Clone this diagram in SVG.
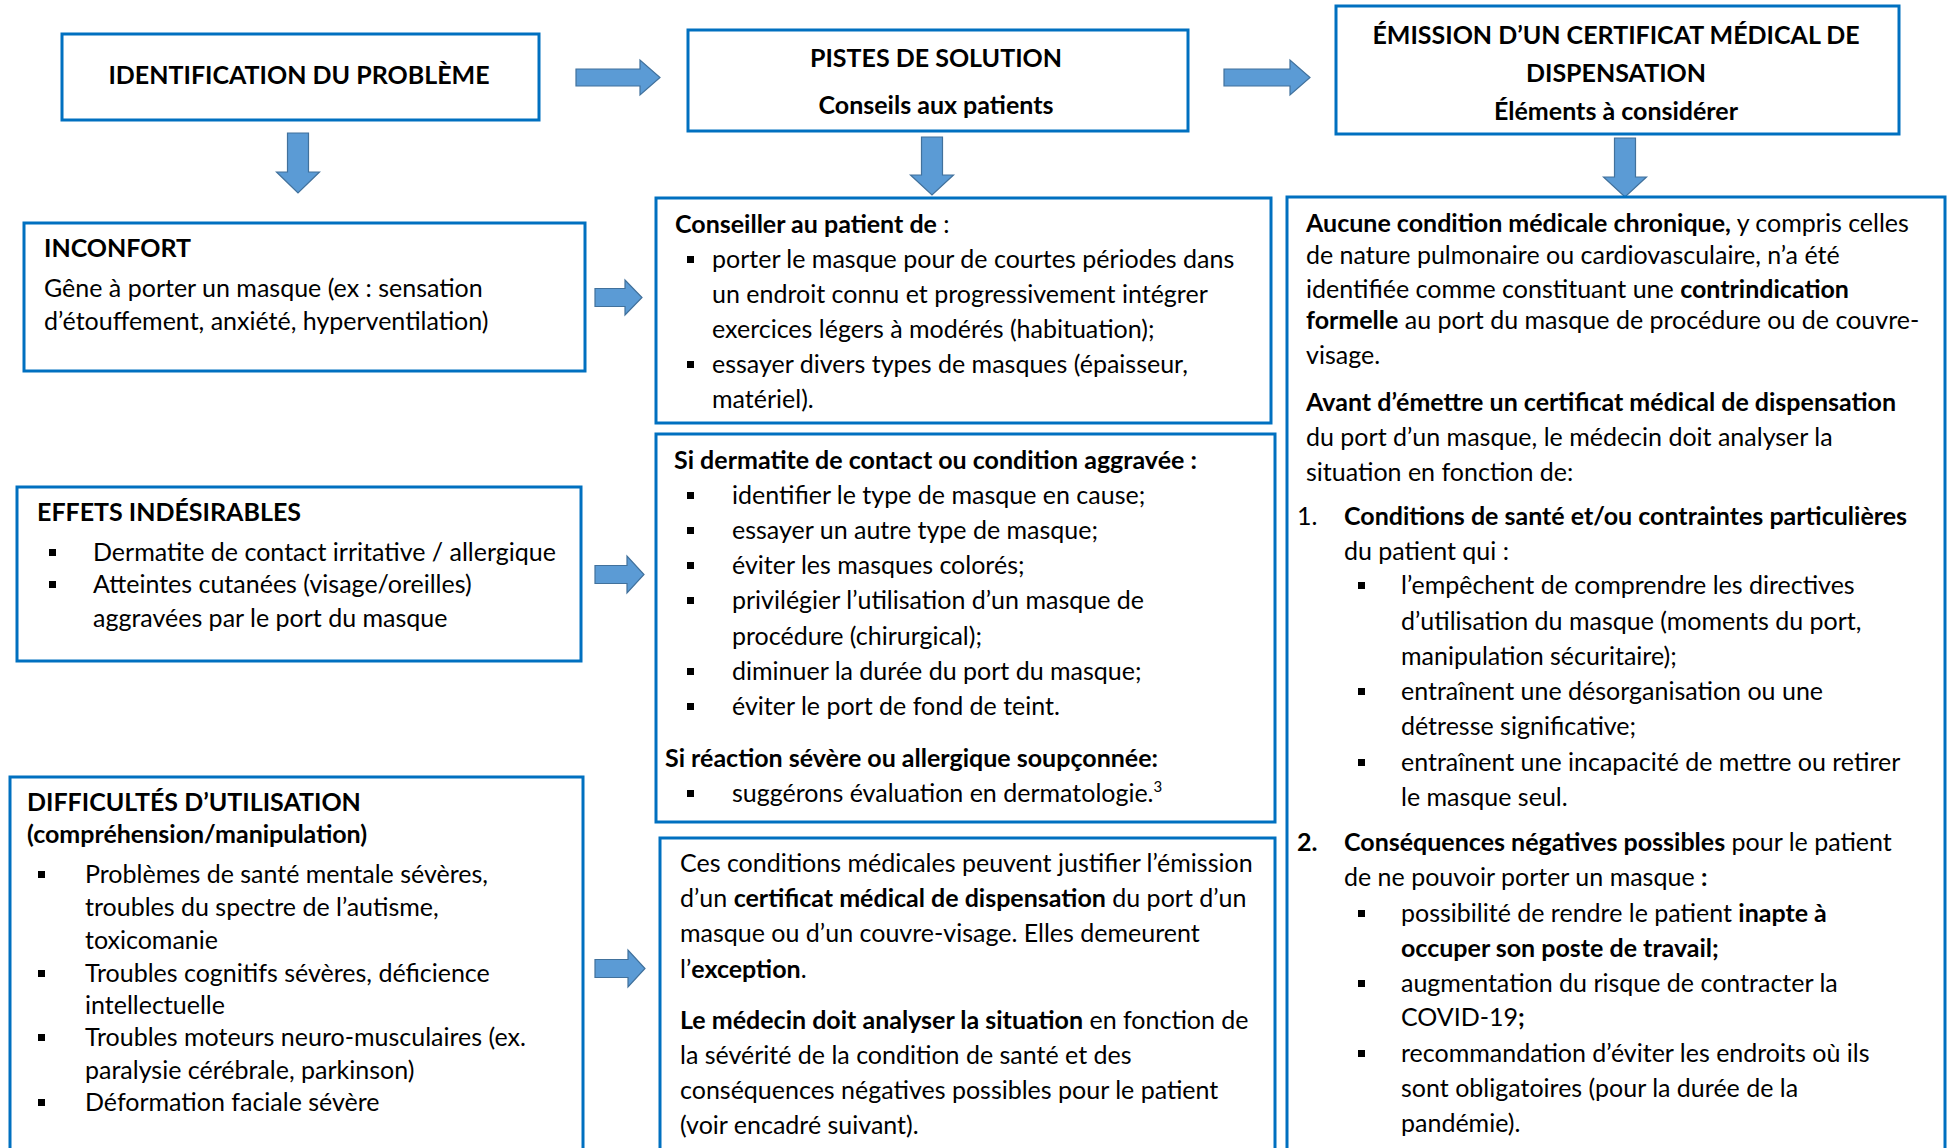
<svg xmlns="http://www.w3.org/2000/svg" width="1952" height="1148" viewBox="0 0 1952 1148">
<style>
text{font-family:Lato,"Liberation Sans",sans-serif;font-size:25px;fill:#000}
.b{font-weight:bold}
.t{font-weight:bold;font-size:25px;text-anchor:middle}
.box{fill:#fff;stroke:#0070C0;stroke-width:3}
.arr{fill:#5B9BD5;stroke:#41719C;stroke-width:1.2}
.bl{fill:#000}
</style>
<rect width="1952" height="1148" fill="#fff"/>
<g id="connectors">
<path class="arr" d="M576,69 L640,69 L640,60 L660,77.5 L640,95 L640,86 L576,86 Z"/>
<path class="arr" d="M1224,69 L1290,69 L1290,60 L1310,77.5 L1290,95 L1290,86 L1224,86 Z"/>
<path class="arr" d="M287.5,133 L308.5,133 L308.5,172 L319.5,172 L298,193 L276.5,172 L287.5,172 Z"/>
<path class="arr" d="M921.5,137 L942.5,137 L942.5,175 L953.5,175 L932,195 L910.5,175 L921.5,175 Z"/>
<path class="arr" d="M1614.5,138 L1635.5,138 L1635.5,177 L1646.5,177 L1625,197 L1603.5,177 L1614.5,177 Z"/>
<path class="arr" d="M595,288.5 L625,288.5 L625,280 L642,297.5 L625,315 L625,306.5 L595,306.5 Z"/>
<path class="arr" d="M595,565.5 L627,565.5 L627,556 L644,574.5 L627,593 L627,583.5 L595,583.5 Z"/>
<path class="arr" d="M595,959.5 L628,959.5 L628,950 L645,968.5 L628,987 L628,977.5 L595,977.5 Z"/>
</g>
<g id="ident">
<rect class="box" x="62" y="34" width="477" height="86"/>
<text class="t" x="299" y="84">IDENTIFICATION DU PROBLÈME</text>
</g>
<g id="pistes">
<rect class="box" x="688" y="30" width="500" height="101"/>
<text class="t" x="936" y="67">PISTES DE SOLUTION</text>
<text class="t" x="936" y="114">Conseils aux patients</text>
</g>
<g id="emission">
<rect class="box" x="1336" y="6" width="563" height="128"/>
<text class="t" x="1616" y="44">ÉMISSION D’UN CERTIFICAT MÉDICAL DE</text>
<text class="t" x="1616" y="82">DISPENSATION</text>
<text class="t" x="1616" y="120">Éléments à considérer</text>
</g>
<g id="inconfort">
<rect class="box" x="24" y="223" width="561" height="148"/>
<text class="b" x="44" y="257">INCONFORT</text>
<text x="44" y="297">Gêne à porter un masque (ex : sensation</text>
<text x="44" y="330">d’étouffement, anxiété, hyperventilation)</text>
</g>
<g id="effets">
<rect class="box" x="17" y="487" width="564" height="174"/>
<text class="b" x="37" y="521">EFFETS INDÉSIRABLES</text>
<rect class="bl" x="49" y="549" width="7" height="7"/>
<text x="93" y="561">Dermatite de contact irritative / allergique</text>
<rect class="bl" x="49" y="581" width="7" height="7"/>
<text x="93" y="593">Atteintes cutanées (visage/oreilles)</text>
<text x="93" y="627">aggravées par le port du masque</text>
</g>
<g id="difficultes">
<rect class="box" x="10" y="777" width="573" height="420"/>
<text class="b" x="27" y="811">DIFFICULTÉS D’UTILISATION</text>
<text class="b" x="27" y="843">(compréhension/manipulation)</text>
<rect class="bl" x="38" y="871" width="7" height="7"/>
<text x="85" y="883">Problèmes de santé mentale sévères,</text>
<text x="85" y="916">troubles du spectre de l’autisme,</text>
<text x="85" y="949">toxicomanie</text>
<rect class="bl" x="38" y="970" width="7" height="7"/>
<text x="85" y="982">Troubles cognitifs sévères, déficience</text>
<text x="85" y="1014">intellectuelle</text>
<rect class="bl" x="38" y="1034" width="7" height="7"/>
<text x="85" y="1046">Troubles moteurs neuro-musculaires (ex.</text>
<text x="85" y="1079">paralysie cérébrale, parkinson)</text>
<rect class="bl" x="38" y="1099" width="7" height="7"/>
<text x="85" y="1111">Déformation faciale sévère</text>
</g>
<g id="conseiller">
<rect class="box" x="656" y="198" width="615" height="225"/>
<text x="675" y="233"><tspan class="b">Conseiller au patient de</tspan> :</text>
<rect class="bl" x="687" y="256" width="7" height="7"/>
<text x="712" y="268">porter le masque pour de courtes périodes dans</text>
<text x="712" y="303">un endroit connu et progressivement intégrer</text>
<text x="712" y="338">exercices légers à modérés (habituation);</text>
<rect class="bl" x="687" y="361" width="7" height="7"/>
<text x="712" y="373">essayer divers types de masques (épaisseur,</text>
<text x="712" y="408">matériel).</text>
</g>
<g id="dermatite">
<rect class="box" x="656" y="434" width="619" height="388"/>
<text class="b" x="674" y="469">Si dermatite de contact ou condition aggravée :</text>
<rect class="bl" x="687" y="492" width="7" height="7"/>
<text x="732" y="504">identifier le type de masque en cause;</text>
<rect class="bl" x="687" y="527" width="7" height="7"/>
<text x="732" y="539">essayer un autre type de masque;</text>
<rect class="bl" x="687" y="562" width="7" height="7"/>
<text x="732" y="574">éviter les masques colorés;</text>
<rect class="bl" x="687" y="597" width="7" height="7"/>
<text x="732" y="609">privilégier l’utilisation d’un masque de</text>
<text x="732" y="645">procédure (chirurgical);</text>
<rect class="bl" x="687" y="668" width="7" height="7"/>
<text x="732" y="680">diminuer la durée du port du masque;</text>
<rect class="bl" x="687" y="703" width="7" height="7"/>
<text x="732" y="715">éviter le port de fond de teint.</text>
<text class="b" x="665" y="767">Si réaction sévère ou allergique soupçonnée:</text>
<rect class="bl" x="687" y="790" width="7" height="7"/>
<text x="732" y="802">suggérons évaluation en dermatologie.<tspan dy="-10" font-size="15">3</tspan></text>
</g>
<g id="ces-conditions">
<rect class="box" x="660" y="838" width="615" height="360"/>
<text x="680" y="872">Ces conditions médicales peuvent justifier l’émission</text>
<text x="680" y="907">d’un <tspan class="b">certificat médical de dispensation</tspan> du port d’un</text>
<text x="680" y="942">masque ou d’un couvre-visage. Elles demeurent</text>
<text x="680" y="978">l’<tspan class="b">exception</tspan>.</text>
<text x="680" y="1029"><tspan class="b">Le médecin doit analyser la situation</tspan> en fonction de</text>
<text x="680" y="1064">la sévérité de la condition de santé et des</text>
<text x="680" y="1099">conséquences négatives possibles pour le patient</text>
<text x="680" y="1134">(voir encadré suivant).</text>
</g>
<g id="certificat">
<rect class="box" x="1287" y="197" width="658" height="1000"/>
<text x="1306" y="232"><tspan class="b">Aucune condition médicale chronique,</tspan> y compris celles</text>
<text x="1306" y="264">de nature pulmonaire ou cardiovasculaire, n’a été</text>
<text x="1306" y="298">identifiée comme constituant une <tspan class="b">contrindication</tspan></text>
<text x="1306" y="329"><tspan class="b">formelle</tspan> au port du masque de procédure ou de couvre-</text>
<text x="1306" y="364">visage.</text>
<text class="b" x="1306" y="411">Avant d’émettre un certificat médical de dispensation</text>
<text x="1306" y="446">du port d’un masque, le médecin doit analyser la</text>
<text x="1306" y="481">situation en fonction de:</text>
<text x="1297" y="525">1.</text>
<text class="b" x="1344" y="525">Conditions de santé et/ou contraintes particulières</text>
<text x="1344" y="560">du patient qui :</text>
<rect class="bl" x="1358" y="582" width="7" height="7"/>
<text x="1401" y="594">l’empêchent de comprendre les directives</text>
<text x="1401" y="630">d’utilisation du masque (moments du port,</text>
<text x="1401" y="665">manipulation sécuritaire);</text>
<rect class="bl" x="1358" y="688" width="7" height="7"/>
<text x="1401" y="700">entraînent une désorganisation ou une</text>
<text x="1401" y="735">détresse significative;</text>
<rect class="bl" x="1358" y="759" width="7" height="7"/>
<text x="1401" y="771">entraînent une incapacité de mettre ou retirer</text>
<text x="1401" y="806">le masque seul.</text>
<text class="b" x="1297" y="851">2.</text>
<text x="1344" y="851"><tspan class="b">Conséquences négatives possibles</tspan> pour le patient</text>
<text x="1344" y="886">de ne pouvoir porter un masque <tspan class="b">:</tspan></text>
<rect class="bl" x="1358" y="910" width="7" height="7"/>
<text x="1401" y="922">possibilité de rendre le patient <tspan class="b">inapte à</tspan></text>
<text class="b" x="1401" y="957">occuper son poste de travail;</text>
<rect class="bl" x="1358" y="980" width="7" height="7"/>
<text x="1401" y="992">augmentation du risque de contracter la</text>
<text x="1401" y="1026">COVID-19<tspan class="b">;</tspan></text>
<rect class="bl" x="1358" y="1050" width="7" height="7"/>
<text x="1401" y="1062">recommandation d’éviter les endroits où ils</text>
<text x="1401" y="1097">sont obligatoires (pour la durée de la</text>
<text x="1401" y="1132">pandémie).</text>
</g>
</svg>
